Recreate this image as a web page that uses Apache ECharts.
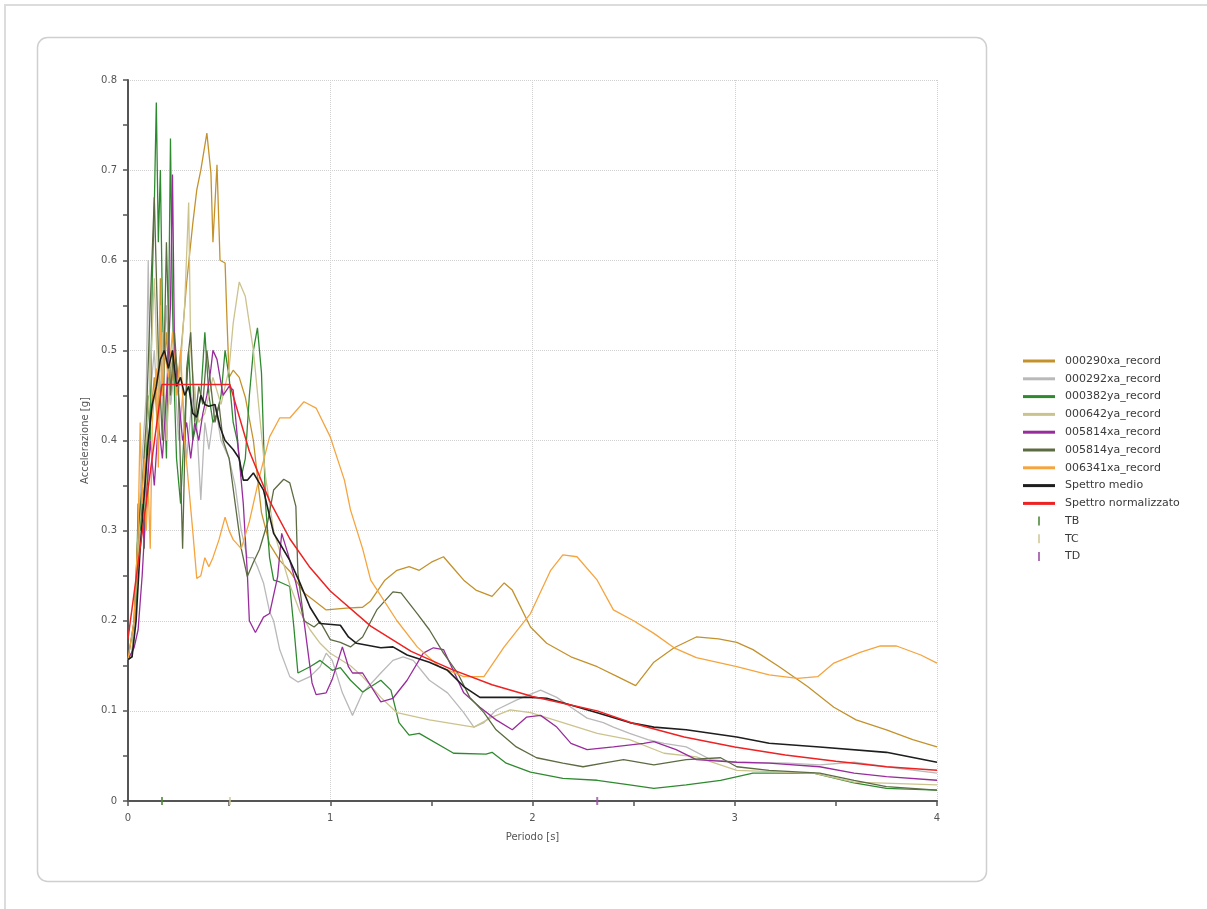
<!DOCTYPE html>
<html>
<head>
<meta charset="utf-8">
<script src="https://cdn.jsdelivr.net/npm/echarts@6/dist/echarts.min.js"></script>
<style>
html,body{margin:0;padding:0;background:#fff;}
#chart{width:1207px;height:909px;}
</style>
</head>
<body>
<div id="chart"></div>
<script>
// ---- Data (period [s], acceleration [g]) ----
const seriesNames = ['000290xa_record','000292xa_record','000382ya_record','000642ya_record','005814xa_record','005814ya_record','006341xa_record','Spettro medio','Spettro normalizzato'];
const markerNames = ['TB','TC','TD'];
const markerPeriods = [0.168, 0.504, 2.32];

const s000290xa = [[0,0.157],[0.02,0.165],[0.03,0.19],[0.05,0.27],[0.07,0.35],[0.09,0.33],[0.11,0.42],[0.13,0.47],[0.15,0.40],[0.16,0.58],[0.17,0.45],[0.19,0.52],[0.21,0.44],[0.23,0.50],[0.25,0.47],[0.27,0.52],[0.29,0.575],[0.32,0.64],[0.34,0.678],[0.36,0.70],[0.39,0.741],[0.41,0.697],[0.42,0.62],[0.44,0.706],[0.455,0.60],[0.48,0.597],[0.49,0.53],[0.50,0.47],[0.52,0.478],[0.55,0.47],[0.58,0.448],[0.62,0.40],[0.66,0.32],[0.70,0.285],[0.75,0.267],[0.80,0.255],[0.87,0.231],[0.98,0.212],[1.08,0.214],[1.16,0.215],[1.20,0.222],[1.27,0.245],[1.33,0.256],[1.39,0.26],[1.44,0.256],[1.50,0.265],[1.56,0.271],[1.61,0.258],[1.66,0.245],[1.72,0.234],[1.80,0.227],[1.86,0.242],[1.90,0.234],[1.99,0.193],[2.07,0.175],[2.19,0.16],[2.32,0.149],[2.42,0.138],[2.51,0.128],[2.60,0.154],[2.70,0.17],[2.81,0.182],[2.92,0.180],[3.01,0.176],[3.09,0.168],[3.22,0.149],[3.36,0.127],[3.49,0.104],[3.60,0.09],[3.75,0.079],[3.88,0.068],[4.0,0.06]];

const s000292xa = [[0,0.157],[0.02,0.165],[0.03,0.2],[0.05,0.3],[0.07,0.38],[0.09,0.45],[0.10,0.60],[0.11,0.45],[0.13,0.50],[0.15,0.42],[0.17,0.47],[0.19,0.55],[0.21,0.44],[0.23,0.48],[0.25,0.40],[0.27,0.45],[0.29,0.38],[0.31,0.43],[0.33,0.46],[0.36,0.334],[0.38,0.42],[0.40,0.39],[0.43,0.44],[0.46,0.40],[0.50,0.38],[0.53,0.35],[0.56,0.30],[0.59,0.27],[0.62,0.27],[0.64,0.26],[0.67,0.242],[0.70,0.21],[0.72,0.2],[0.75,0.168],[0.80,0.138],[0.84,0.132],[0.90,0.138],[0.95,0.149],[0.98,0.164],[1.01,0.156],[1.06,0.12],[1.11,0.095],[1.16,0.12],[1.25,0.142],[1.31,0.156],[1.36,0.16],[1.41,0.156],[1.49,0.134],[1.58,0.12],[1.66,0.098],[1.71,0.082],[1.76,0.087],[1.82,0.101],[1.92,0.112],[2.04,0.123],[2.12,0.115],[2.19,0.104],[2.27,0.092],[2.35,0.087],[2.40,0.082],[2.48,0.075],[2.57,0.068],[2.65,0.064],[2.76,0.06],[2.88,0.046],[3.01,0.043],[3.26,0.042],[3.42,0.04],[3.59,0.043],[3.75,0.038],[4.0,0.031]];

const s000382ya = [[0,0.157],[0.02,0.16],[0.04,0.22],[0.05,0.33],[0.06,0.30],[0.07,0.33],[0.08,0.28],[0.09,0.38],[0.10,0.45],[0.11,0.40],[0.12,0.58],[0.13,0.66],[0.14,0.775],[0.15,0.62],[0.16,0.70],[0.17,0.55],[0.18,0.45],[0.19,0.38],[0.20,0.52],[0.21,0.735],[0.22,0.55],[0.23,0.45],[0.24,0.38],[0.26,0.33],[0.28,0.42],[0.30,0.50],[0.32,0.40],[0.34,0.42],[0.36,0.45],[0.38,0.52],[0.40,0.45],[0.42,0.42],[0.44,0.43],[0.46,0.45],[0.48,0.50],[0.50,0.47],[0.52,0.42],[0.54,0.40],[0.56,0.36],[0.58,0.38],[0.60,0.45],[0.62,0.50],[0.64,0.525],[0.66,0.475],[0.68,0.33],[0.70,0.27],[0.72,0.245],[0.75,0.243],[0.80,0.238],[0.82,0.193],[0.84,0.142],[0.90,0.149],[0.95,0.156],[1.01,0.145],[1.05,0.148],[1.10,0.134],[1.16,0.121],[1.25,0.134],[1.30,0.123],[1.34,0.087],[1.39,0.073],[1.44,0.075],[1.61,0.053],[1.77,0.052],[1.80,0.054],[1.87,0.042],[1.99,0.032],[2.15,0.025],[2.32,0.023],[2.48,0.018],[2.60,0.014],[2.76,0.018],[2.93,0.023],[3.09,0.031],[3.39,0.031],[3.59,0.02],[3.75,0.014],[4.0,0.012]];

const s000642ya = [[0,0.157],[0.02,0.165],[0.03,0.19],[0.05,0.28],[0.07,0.35],[0.09,0.40],[0.11,0.47],[0.13,0.58],[0.15,0.45],[0.17,0.52],[0.19,0.40],[0.21,0.48],[0.23,0.50],[0.25,0.45],[0.28,0.55],[0.30,0.664],[0.31,0.50],[0.33,0.45],[0.35,0.42],[0.38,0.43],[0.42,0.47],[0.46,0.44],[0.50,0.48],[0.52,0.53],[0.55,0.576],[0.58,0.56],[0.62,0.50],[0.65,0.43],[0.68,0.36],[0.72,0.30],[0.76,0.27],[0.80,0.24],[0.85,0.21],[0.90,0.19],[0.95,0.175],[1.0,0.164],[1.1,0.15],[1.16,0.138],[1.25,0.115],[1.33,0.098],[1.49,0.09],[1.71,0.082],[1.80,0.093],[1.89,0.101],[1.99,0.098],[2.15,0.087],[2.32,0.075],[2.48,0.068],[2.65,0.053],[2.81,0.049],[3.01,0.034],[3.39,0.031],[3.59,0.021],[4.0,0.018]];

const s005814xa = [[0,0.157],[0.03,0.17],[0.05,0.19],[0.07,0.25],[0.09,0.33],[0.11,0.40],[0.13,0.35],[0.15,0.42],[0.17,0.38],[0.19,0.45],[0.21,0.55],[0.22,0.695],[0.23,0.50],[0.25,0.45],[0.27,0.40],[0.29,0.42],[0.31,0.38],[0.33,0.42],[0.35,0.40],[0.37,0.43],[0.39,0.45],[0.41,0.48],[0.42,0.50],[0.44,0.49],[0.47,0.45],[0.50,0.46],[0.52,0.456],[0.55,0.38],[0.57,0.33],[0.59,0.253],[0.60,0.2],[0.63,0.187],[0.67,0.204],[0.70,0.208],[0.74,0.249],[0.76,0.297],[0.79,0.275],[0.83,0.242],[0.87,0.2],[0.91,0.131],[0.93,0.118],[0.98,0.12],[1.01,0.135],[1.06,0.171],[1.09,0.149],[1.11,0.142],[1.16,0.142],[1.25,0.11],[1.31,0.114],[1.38,0.134],[1.46,0.164],[1.51,0.17],[1.56,0.168],[1.66,0.12],[1.74,0.104],[1.82,0.09],[1.90,0.079],[1.97,0.093],[2.04,0.095],[2.12,0.082],[2.19,0.064],[2.27,0.057],[2.40,0.06],[2.55,0.064],[2.60,0.066],[2.71,0.057],[2.81,0.046],[3.01,0.043],[3.17,0.042],[3.42,0.038],[3.59,0.031],[3.75,0.027],[4.0,0.023]];

const s005814ya = [[0,0.157],[0.03,0.2],[0.05,0.3],[0.07,0.35],[0.09,0.42],[0.11,0.55],[0.13,0.67],[0.15,0.50],[0.17,0.40],[0.19,0.62],[0.21,0.45],[0.23,0.52],[0.25,0.45],[0.27,0.28],[0.29,0.48],[0.31,0.52],[0.33,0.42],[0.35,0.46],[0.37,0.44],[0.39,0.50],[0.41,0.46],[0.43,0.42],[0.45,0.44],[0.47,0.40],[0.50,0.38],[0.53,0.33],[0.56,0.28],[0.59,0.249],[0.62,0.265],[0.65,0.279],[0.69,0.309],[0.72,0.345],[0.77,0.357],[0.80,0.353],[0.83,0.327],[0.84,0.253],[0.87,0.2],[0.92,0.193],[0.95,0.199],[1.0,0.179],[1.05,0.176],[1.10,0.171],[1.16,0.182],[1.23,0.212],[1.31,0.232],[1.35,0.231],[1.43,0.208],[1.49,0.19],[1.56,0.164],[1.63,0.142],[1.69,0.115],[1.76,0.098],[1.82,0.079],[1.92,0.06],[2.02,0.048],[2.15,0.042],[2.25,0.038],[2.35,0.042],[2.45,0.046],[2.60,0.04],[2.76,0.046],[2.93,0.048],[3.01,0.038],[3.17,0.034],[3.42,0.031],[3.59,0.023],[3.75,0.016],[4.0,0.012]];

const s006341xa = [[0,0.157],[0.03,0.2],[0.05,0.3],[0.06,0.42],[0.07,0.33],[0.08,0.38],[0.09,0.30],[0.10,0.35],[0.11,0.28],[0.12,0.42],[0.14,0.48],[0.15,0.37],[0.16,0.55],[0.17,0.45],[0.18,0.50],[0.20,0.47],[0.22,0.52],[0.24,0.45],[0.26,0.50],[0.28,0.40],[0.30,0.35],[0.32,0.30],[0.34,0.247],[0.36,0.25],[0.38,0.27],[0.40,0.26],[0.42,0.27],[0.45,0.29],[0.48,0.315],[0.50,0.30],[0.52,0.29],[0.56,0.28],[0.60,0.31],[0.65,0.36],[0.70,0.404],[0.75,0.425],[0.80,0.425],[0.87,0.443],[0.93,0.436],[1.0,0.404],[1.07,0.356],[1.10,0.323],[1.16,0.28],[1.20,0.245],[1.33,0.2],[1.43,0.171],[1.54,0.149],[1.66,0.138],[1.76,0.138],[1.86,0.171],[1.99,0.208],[2.09,0.256],[2.15,0.273],[2.22,0.271],[2.32,0.245],[2.40,0.212],[2.50,0.2],[2.60,0.186],[2.70,0.17],[2.81,0.159],[3.01,0.149],[3.17,0.14],[3.31,0.136],[3.41,0.138],[3.49,0.153],[3.62,0.165],[3.72,0.172],[3.80,0.172],[3.92,0.162],[4.0,0.153]];

const sMedio = [[0,0.157],[0.02,0.16],[0.04,0.2],[0.06,0.28],[0.08,0.34],[0.10,0.40],[0.12,0.44],[0.14,0.46],[0.16,0.49],[0.18,0.50],[0.20,0.48],[0.22,0.50],[0.24,0.46],[0.26,0.47],[0.28,0.45],[0.30,0.46],[0.32,0.43],[0.34,0.426],[0.36,0.45],[0.38,0.44],[0.40,0.438],[0.43,0.44],[0.455,0.415],[0.48,0.40],[0.52,0.39],[0.55,0.38],[0.57,0.356],[0.59,0.356],[0.62,0.364],[0.67,0.345],[0.72,0.297],[0.75,0.286],[0.80,0.267],[0.85,0.242],[0.90,0.215],[0.95,0.197],[1.05,0.195],[1.09,0.182],[1.13,0.175],[1.25,0.17],[1.31,0.171],[1.38,0.162],[1.49,0.154],[1.58,0.145],[1.66,0.127],[1.74,0.115],[1.86,0.115],[1.99,0.115],[2.07,0.114],[2.15,0.109],[2.32,0.098],[2.48,0.087],[2.60,0.082],[2.76,0.079],[3.01,0.071],[3.17,0.064],[3.42,0.06],[3.75,0.054],[4.0,0.043]];

const sNorm = [[0,0.18],[0.168,0.462],[0.504,0.462],[0.6,0.388],[0.7,0.333],[0.8,0.291],[0.9,0.259],[1.0,0.233],[1.2,0.194],[1.4,0.166],[1.6,0.146],[1.8,0.129],[2.0,0.116],[2.2,0.106],[2.32,0.100],[2.5,0.086],[2.75,0.071],[3.0,0.060],[3.25,0.051],[3.5,0.044],[3.75,0.038],[4.0,0.034]];

const yTicks = [0,0.1,0.2,0.3,0.4,0.5,0.6,0.7,0.8];
const xTicks = [0,1,2,3,4];

// ---- Styles ----
const seriesData = [s000290xa,s000292xa,s000382ya,s000642ya,s005814xa,s005814ya,s006341xa,sMedio,sNorm];
const colors = ['#c4922c','#b9b9b9','#2f8a2f','#cbc38e','#982c9c','#5c6b42','#f5a43e','#1e1e1e','#ee2222'];
const widths = [1.3,1.3,1.3,1.3,1.3,1.3,1.3,1.6,1.5];
const markerColors = ['#4d8a3a','#cfc89a','#9a4fa2'];

const FONT = 'DejaVu Sans';
const chart = echarts.init(document.getElementById('chart'), null, {renderer:'canvas'});

const series = seriesNames.map((n,i)=>({
  name:n, type:'line', data:seriesData[i], symbol:'none', showSymbol:false,
  lineStyle:{color:colors[i], width:widths[i]}, itemStyle:{color:colors[i]},
  z: i>=7 ? 5 : 3, silent:true
}));
markerNames.forEach((n,i)=>{
  series.push({name:n, type:'scatter', data:[[markerPeriods[i],0]], symbol:'rect',
    symbolSize:[2,8], clip:false, itemStyle:{color:markerColors[i]}, z:6, silent:true});
});

const option = {
  animation:false,
  backgroundColor:'#ffffff',
  textStyle:{fontFamily:FONT},
  graphic:[
    {type:'rect', shape:{x:5,y:5,width:1240,height:950}, style:{fill:'none',stroke:'#dcdcdc',lineWidth:2}, z:-10, silent:true},
    {type:'rect', shape:{x:37.5,y:37.5,width:949,height:844,r:10}, style:{fill:'none',stroke:'#cfcfcf',lineWidth:1.5}, z:-10, silent:true}
  ],
  grid:{left:128, right:270, top:80, bottom:108, containLabel:false},
  legend:[{
    orient:'vertical', left:1018, top:349, icon:'rect', itemWidth:32, itemHeight:3, itemGap:3.8,
    data:seriesNames, selectedMode:false,
    textStyle:{fontFamily:FONT, fontSize:11, color:'#3a3a3a', lineHeight:14, padding:[0,0,0,5]}
  },{
    orient:'vertical', left:1033, top:509, icon:'rect', itemWidth:2, itemHeight:9, itemGap:3.8,
    data:markerNames, selectedMode:false,
    textStyle:{fontFamily:FONT, fontSize:11, color:'#3a3a3a', lineHeight:14, padding:[0,0,0,20]}
  }],
  xAxis:{
    type:'value', min:0, max:4, interval:1,
    name:'Periodo [s]', nameLocation:'middle', nameGap:31,
    nameTextStyle:{fontFamily:FONT, fontSize:10, color:'#555'},
    axisLine:{show:true, onZero:false, lineStyle:{color:'#555', width:2}},
    axisTick:{show:true, length:5, lineStyle:{color:'#555', width:1.5}},
    minorTick:{show:true, splitNumber:2, length:5, lineStyle:{color:'#555', width:1.5}},
    axisLabel:{margin:12, fontFamily:FONT, fontSize:10, color:'#555',
      formatter:v=>String(xTicks[Math.round(v)])},
    splitLine:{show:true, lineStyle:{color:'#d0d0d0', type:'dotted', width:1}}
  },
  yAxis:{
    type:'value', min:0, max:0.8, interval:0.1,
    name:'Accelerazione [g]', nameLocation:'middle', nameGap:36, nameRotate:90,
    nameTextStyle:{fontFamily:FONT, fontSize:10, color:'#555'},
    axisLine:{show:true, onZero:false, lineStyle:{color:'#555', width:2}},
    axisTick:{show:true, length:5, lineStyle:{color:'#555', width:1.5}},
    minorTick:{show:true, splitNumber:2, length:5, lineStyle:{color:'#555', width:1.5}},
    axisLabel:{margin:11, fontFamily:FONT, fontSize:10, color:'#555',
      formatter:v=>String(yTicks[Math.round(v*10)])},
    splitLine:{show:true, lineStyle:{color:'#d0d0d0', type:'dotted', width:1}}
  },
  series:series
};
chart.setOption(option);
</script>
</body>
</html>
